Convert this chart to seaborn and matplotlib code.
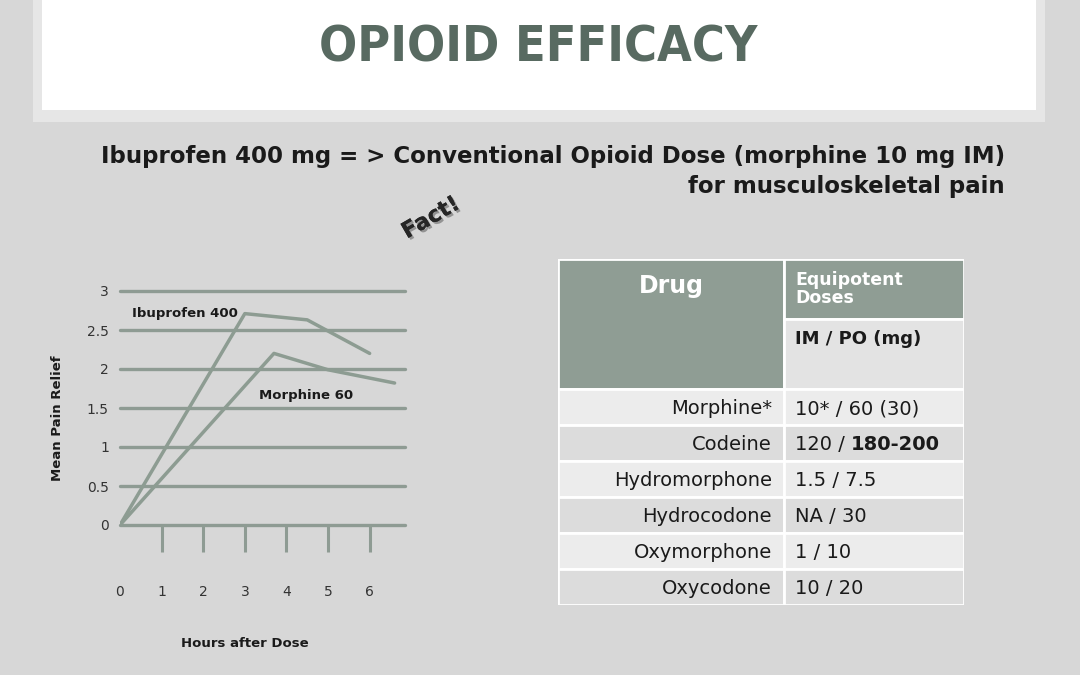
import matplotlib
matplotlib.use("Agg")
import matplotlib.pyplot as plt
import matplotlib.patches as mpatches
import matplotlib.patheffects as pe
import matplotlib.transforms as mtrans
import numpy as np
import pandas as pd
import seaborn as sns

# ---------------- data ----------------
hours_ibuprofen = [0, 3, 4.5, 6]
relief_ibuprofen = [0, 2.71, 2.63, 2.2]
hours_morphine = [0, 3.7, 5, 6.6]
relief_morphine = [0, 2.2, 1.99, 1.82]
x_ticks = [0, 1, 2, 3, 4, 5, 6]
y_ticks = [0, 0.5, 1, 1.5, 2, 2.5, 3]
y_tick_labels = ["0", "0.5", "1", "1.5", "2", "2.5", "3"]

drugs = ["Morphine*", "Codeine", "Hydromorphone", "Hydrocodone", "Oxymorphone", "Oxycodone"]
doses_regular = ["10* / 60 (30)", "120 / ", "1.5 / 7.5", "NA / 30", "1 / 10", "10 / 20"]
doses_bold = ["", "180-200", "", "", "", ""]

title = "OPIOID EFFICACY"
subtitle1 = "Ibuprofen 400 mg = > Conventional Opioid Dose (morphine 10 mg IM)"
subtitle2 = "for musculoskeletal pain"

# ---------------- style ----------------
sns.set_theme(style="white")
plt.rcParams["font.family"] = ["DejaVu Sans"]

BG = "#d7d7d7"
GRID = "#8e9b93"
LINE = "#8d9c92"
HEAD = "#8f9d94"
TXT = "#1a1a1a"

W, H = 1080, 675
fig = plt.figure(figsize=(W / 100, H / 100), dpi=100, facecolor=BG)

def fx(px):
    return px / W

def fy(py):
    return 1 - py / H

# banner
fig.patches.append(mpatches.Rectangle((fx(33), fy(122)), fx(1045) - fx(33), fy(0) - fy(122),
                                      transform=fig.transFigure, facecolor="#e6e6e6", edgecolor="none", zorder=0))
fig.patches.append(mpatches.Rectangle((fx(42), fy(110)), fx(1036) - fx(42), fy(0) - fy(110),
                                      transform=fig.transFigure, facecolor="white", edgecolor="none", zorder=0))
fig.text(fx(538), fy(48), title, ha="center", va="center", fontsize=36, fontweight="bold",
         color="#586a61", fontstretch="condensed")

fig.text(fx(1005), fy(157), subtitle1, ha="right", va="center", fontsize=16.5, fontweight="bold", color=TXT)
fig.text(fx(1005), fy(187), subtitle2, ha="right", va="center", fontsize=16.5, fontweight="bold", color=TXT)

fig.text(fx(431), fy(218), "Fact!", ha="center", va="center", fontsize=16, fontweight="bold",
         color="#262626", rotation=30,
         path_effects=[pe.withSimplePatchShadow(offset=(1.5, -1.5), shadow_rgbFace="#666666", alpha=0.6), pe.Normal()])

# ---------------- chart ----------------
x0, x1 = 120, 405
ybot, ytop = 525, 291
ax = fig.add_axes([fx(x0), fy(ybot), fx(x1) - fx(x0), fy(ytop) - fy(ybot)])
ax.set_facecolor("none")

df = pd.DataFrame({
    "hours": hours_ibuprofen + hours_morphine,
    "relief": relief_ibuprofen + relief_morphine,
    "drug": ["Ibuprofen 400"] * len(hours_ibuprofen) + ["Morphine 60"] * len(hours_morphine),
})
sns.lineplot(data=df, x="hours", y="relief", hue="drug", palette=[LINE, LINE], linewidth=2.5,
             legend=False, ax=ax, sort=False, zorder=3)

ax.set_xlim(0, 6.85)
ax.set_ylim(0, 3)
for s in ax.spines.values():
    s.set_visible(False)
for yv in y_ticks:
    ax.axhline(yv, color=GRID, linewidth=2.4, zorder=1, clip_on=False)

ax.set_yticks(y_ticks)
ax.set_yticklabels(y_tick_labels)
ax.tick_params(axis="y", length=0, pad=8, labelsize=10, labelcolor="#333333")
ax.set_xticks(x_ticks)
ax.set_xticklabels([str(v) for v in x_ticks])
ax.tick_params(axis="x", direction="out", length=19.5, width=2.2, color=GRID, pad=24,
               labelsize=10, labelcolor="#333333", bottom=True)
ax.xaxis.get_major_ticks()[0].tick1line.set_visible(False)
ax.set_xlabel("Hours after Dose", fontsize=9.5, fontweight="bold", color=TXT, labelpad=0)
ax.xaxis.set_label_coords((245 - x0) / (x1 - x0), -(637 - ybot) / (ybot - ytop))
ax.set_ylabel("Mean Pain Relief", fontsize=9.5, fontweight="bold", color=TXT)
ax.yaxis.set_label_coords(-(x0 - 64) / (x1 - x0), (ybot - 418) / (ybot - ytop))
ax.grid(False)

ax.text(0.3, 2.71, "Ibuprofen 400", fontsize=9.5, fontweight="bold", color=TXT, va="center", ha="left", zorder=4)
ax.text(3.34, 1.66, "Morphine 60", fontsize=9.5, fontweight="bold", color=TXT, va="center", ha="left", zorder=4)

# ---------------- table ----------------
tx0, tx1, ty0, ty1 = 558, 964, 259, 605
tax = fig.add_axes([fx(tx0), fy(ty1), fx(tx1) - fx(tx0), fy(ty0) - fy(ty1)])
tax.set_xlim(0, tx1 - tx0)
tax.set_ylim(ty1 - ty0, 0)
tax.axis("off")

colsplit = 226
hdr_h = 130
row_h = (ty1 - ty0 - hdr_h) / len(drugs)

def cell(x, y, w, h, color):
    tax.add_patch(mpatches.Rectangle((x, y), w, h, facecolor=color, edgecolor="white", linewidth=2))

cell(0, 0, colsplit, hdr_h, HEAD)
cell(colsplit, 0, tx1 - tx0 - colsplit, 60, HEAD)
cell(colsplit, 60, tx1 - tx0 - colsplit, hdr_h - 60, "#e3e3e3")
tax.text(113, 27, "Drug", ha="center", va="center", fontsize=17, fontweight="bold", color="white")
tax.text(colsplit + 11, 30, "Equipotent\nDoses", ha="left", va="center", fontsize=12.5, fontweight="bold",
         color="white", linespacing=1.05)
tax.text(colsplit + 11, 80, "IM / PO (mg)", ha="left", va="center", fontsize=13, fontweight="bold", color=TXT)

row_colors = ["#ececec", "#dcdcdc"]
fig.canvas.draw()
renderer = fig.canvas.get_renderer()
for i, (d, r, b) in enumerate(zip(drugs, doses_regular, doses_bold)):
    y = hdr_h + i * row_h
    c = row_colors[i % 2]
    cell(0, y, colsplit, row_h, c)
    cell(colsplit, y, tx1 - tx0 - colsplit, row_h, c)
    yc = y + row_h / 2
    tax.text(colsplit - 12, yc, d, ha="right", va="center_baseline", fontsize=14, color=TXT)
    t = tax.text(colsplit + 11, yc, r, ha="left", va="center_baseline", fontsize=14, color=TXT)
    if b:
        bb = t.get_window_extent(renderer)
        tr = mtrans.offset_copy(tax.transData, fig=fig, x=bb.width, y=0, units="dots")
        tax.text(colsplit + 11, yc, b, ha="left", va="center_baseline", fontsize=14, fontweight="bold",
                 color=TXT, transform=tr)

fig.savefig("out.png", dpi=100, facecolor=BG)
